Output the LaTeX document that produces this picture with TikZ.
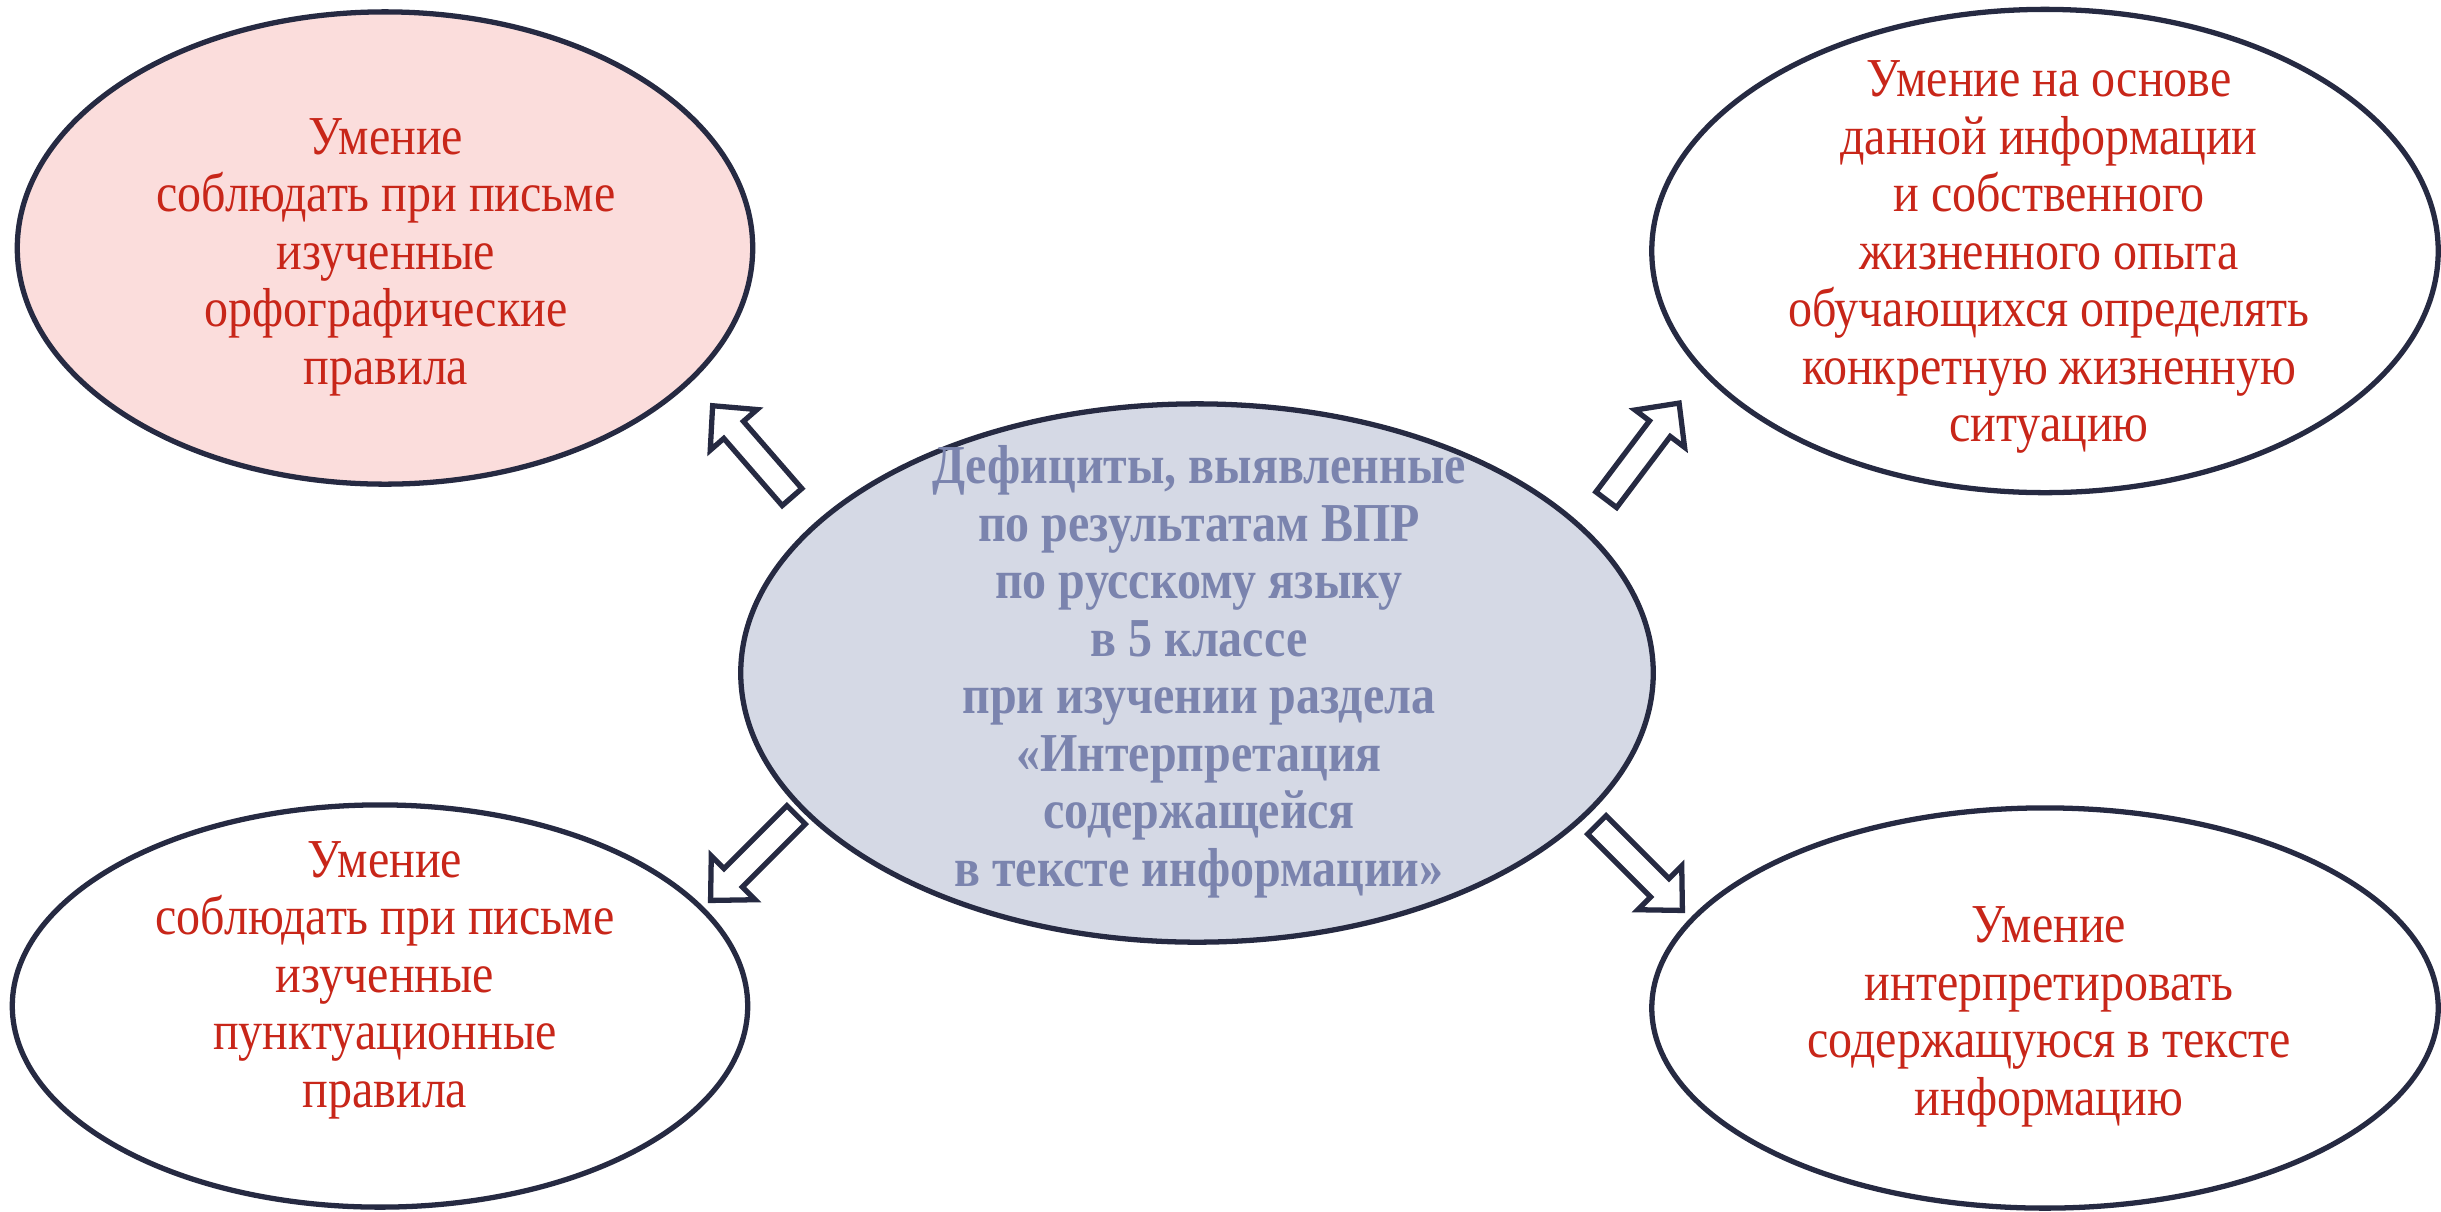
\documentclass[tikz,border=0pt]{standalone}
\usepackage{fontspec}
\setmainfont[FakeStretch=0.875]{Liberation Serif}
\usetikzlibrary{shapes.geometric}

\definecolor{rimblue}{RGB}{38,42,66}
\definecolor{pinkfill}{RGB}{251,221,220}
\definecolor{greyfill}{RGB}{213,217,229}
\definecolor{redtext}{RGB}{200,38,25}
\definecolor{bluetext}{RGB}{123,132,174}

\begin{document}
\begin{tikzpicture}[x=0.01cm, y=-0.01cm,
    bubble/.style={ellipse, draw=rimblue, line width=1.5pt, inner sep=0pt},
    redlabel/.style={text=redtext, align=center, font=\fontsize{15.6}{16.35}\selectfont},
    bluelabel/.style={text=bluetext, align=center, font=\bfseries\fontsize{15.6}{16.35}\selectfont},
    hollow/.pic={\filldraw[fill=white, draw=rimblue, line width=1.5pt, line join=miter]
        (-61,-13) -- (28,-13) -- (28,-31) -- (60,0) -- (28,31) -- (28,13) -- (-61,13) -- cycle;}]

    \useasboundingbox (0,0) rectangle (2441,1211);

    \node[bubble, fill=pinkfill, minimum width=7.35cm, minimum height=4.72cm] (spelling) at (385,248) {};
    \node[bubble, fill=white, minimum width=7.86cm, minimum height=4.83cm] (lifeexp) at (2045,251) {};
    \node[bubble, fill=greyfill, minimum width=9.12cm, minimum height=5.38cm] (deficits) at (1197,673) {};
    \node[bubble, fill=white, minimum width=7.35cm, minimum height=4.02cm] (punctuation) at (380,1006) {};
    \node[bubble, fill=white, minimum width=7.86cm, minimum height=4.00cm] (interpret) at (2045,1008) {};

    \node[redlabel] (spellingtext) at (386,257) {Умение\\соблюдать при письме\\изученные\\орфографические\\правила};
    \node[redlabel] (lifeexptext) at (2049,257) {Умение на основе\\данной информации\\и собственного\\жизненного опыта\\обучающихся определять\\конкретную жизненную\\ситуацию};
    \node[bluelabel] (deficitstext) at (1199,672) {Дефициты, выявленные\\по результатам ВПР\\по русскому языку\\в 5 классе\\при изучении раздела\\«Интерпретация\\содержащейся\\в тексте информации»};
    \node[redlabel] (punctuationtext) at (385,980) {Умение\\соблюдать при письме\\изученные\\пунктуационные\\правила};
    \node[redlabel] (interprettext) at (2049,1017) {Умение\\интерпретировать\\содержащуюся в тексте\\информацию};

    \pic[rotate=131] (toSpelling) at (752,451) {hollow};
    \pic[rotate=53] (toLifeexp) at (1643,451) {hollow};
    \pic[rotate=225] (toPunctuation) at (753,858) {hollow};
    \pic[rotate=-45] (toInterpret) at (1640,868) {hollow};
\end{tikzpicture}
\end{document}
